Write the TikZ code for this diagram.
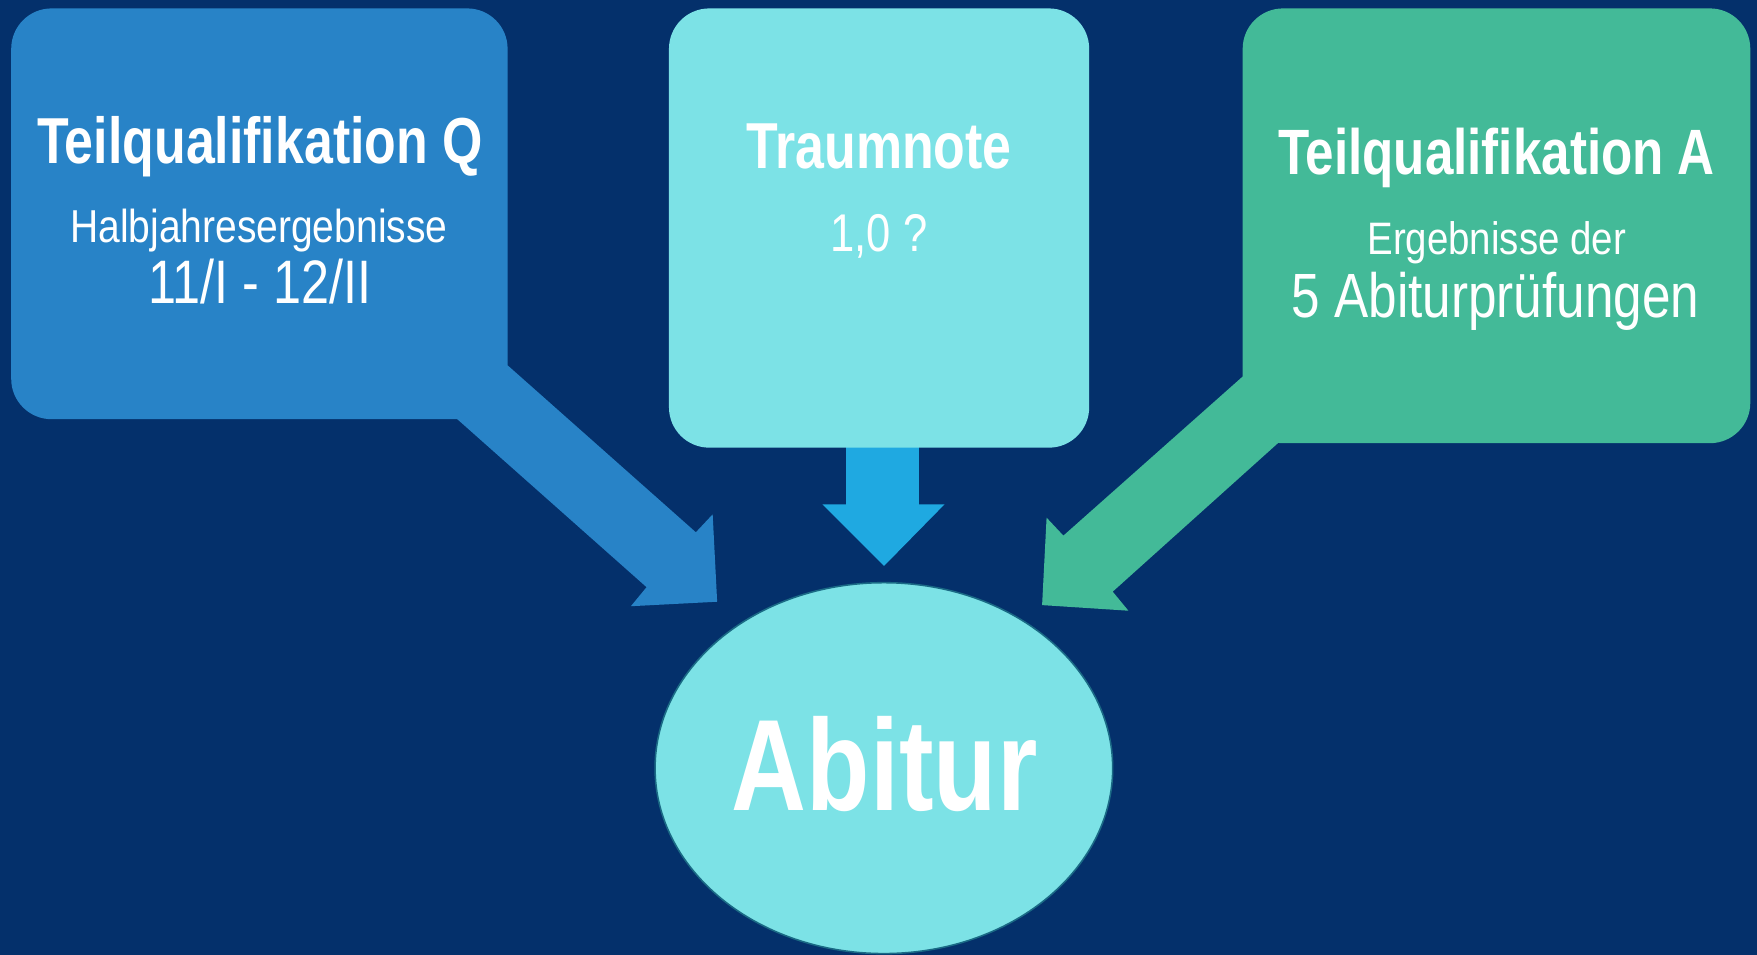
\documentclass[tikz,border=0pt]{standalone}
\usepackage{fontspec}
\setmainfont{Liberation Sans}
\newfontfamily\nreg[FakeStretch=0.82]{Liberation Sans}
\newfontfamily\nsub[FakeStretch=0.845]{Liberation Sans}
\newfontfamily\nbold[FakeStretch=0.798]{Liberation Sans}
\usetikzlibrary{shapes.geometric}
\definecolor{bg}{HTML}{04306B}
\definecolor{qblue}{HTML}{2883C7}
\definecolor{tcyan}{HTML}{7CE2E6}
\definecolor{carrow}{HTML}{1FA9E1}
\definecolor{agreen}{HTML}{43BA98}
\definecolor{eborder}{HTML}{1A6A85}
\begin{document}
\begin{tikzpicture}[x=0.5pt,y=-0.5pt,
  card/.style={rectangle, rounded corners=18pt, inner sep=0pt, outer sep=0pt, draw=none, anchor=north west},
  ttl/.style={anchor=base, inner sep=0pt, text=white, font=\nbold\bfseries\fontsize{29}{35}\selectfont},
  sub/.style={anchor=base, inner sep=0pt, text=white, font=\nsub\fontsize{20.6}{25}\selectfont},
  big/.style={anchor=base, inner sep=0pt, text=white, font=\nreg\fontsize{27.5}{33}\selectfont}]
\fill[bg] (0,0) rectangle (1568,852);
\useasboundingbox (0,0) rectangle (1568,852);
% boxes
\node[card, fill=qblue, minimum width=221.5pt, minimum height=183.3pt] (boxQ) at (10,7.5) {};
\node[card, fill=agreen, minimum width=226.5pt, minimum height=194pt] (boxA) at (1109,7.5) {};
% tails and arrows
\fill[qblue] (453,326) -- (621,475) -- (636,459) -- (640,537) -- (563,541) -- (577,524) -- (408,374) -- cycle;
\fill[agreen] (1109,336) -- (949,478) -- (934,462) -- (930,540) -- (1007,545) -- (993,528) -- (1141,395) -- cycle;
\fill[carrow] (755,396) -- (820,396) -- (820,450) -- (843,450) -- (789,505) -- (734,450) -- (755,450) -- cycle;
\node[card, fill=tcyan, minimum width=187.5pt, minimum height=196pt] (boxT) at (597,7.5) {};
% ellipse
\node[ellipse, fill=tcyan, draw=eborder, line width=0.7pt, inner sep=0pt, minimum width=204.2pt, minimum height=165.5pt] (abi) at (788.8,685.5) {};
% texts
\node[ttl] (tq) at (232,146) {Teilqualifikation Q};
\node[sub] (hj) at (231,216) {Halbjahresergebnisse};
\node[big, font=\nreg\fontsize{27.4}{33}\selectfont] (qr) at (232,271) {11/I - 12/II};
\node[ttl] (tn) at (784.5,150) {Traumnote};
\node[sub, font=\nreg\fontsize{23.7}{28}\selectfont] (note) at (784.5,224) {1,0 ?};
\node[ttl, font=\nbold\bfseries\fontsize{28.6}{35}\selectfont] (ta) at (1335.5,156) {Teilqualifikation A};
\node[sub, font=\nsub\fontsize{20.3}{25}\selectfont] (eg) at (1335.7,227) {Ergebnisse der};
\node[big, font=\nreg\fontsize{27.9}{33}\selectfont] (ap) at (1334.6,283) {5 Abiturprüfungen};
\node[ttl, font=\nbold\bfseries\fontsize{58}{66}\selectfont] (abitxt) at (789.5,723) {Abitur};
\end{tikzpicture}
\end{document}
